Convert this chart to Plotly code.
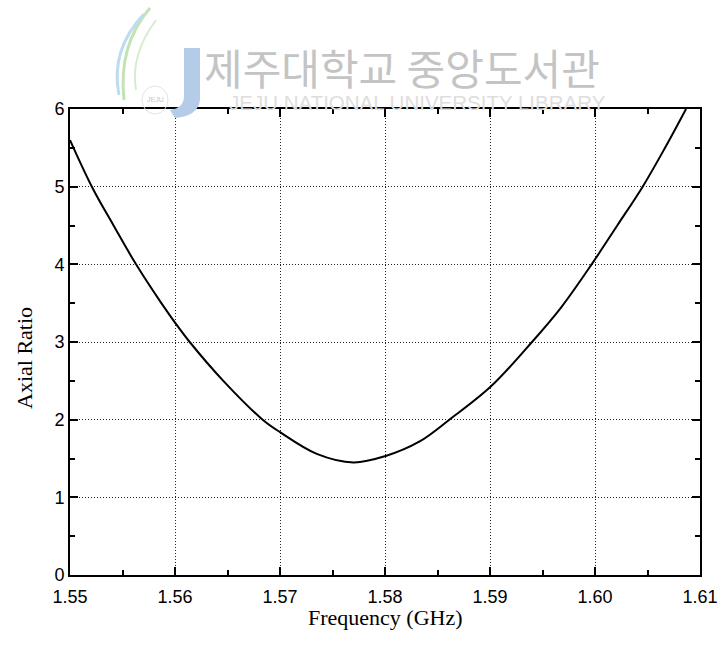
import plotly.graph_objects as go

# Axial ratio versus frequency
freq = [1.55000, 1.55212, 1.55415, 1.55629, 1.55870, 1.56000, 1.56140,
        1.56460, 1.56835, 1.57000, 1.57350, 1.57700, 1.58000, 1.58330,
        1.58613, 1.59010, 1.59400, 1.59680, 1.59968, 1.60212, 1.60454,
        1.60667, 1.60867]
axial_ratio = [5.60, 4.99, 4.50, 4.00, 3.50, 3.25, 3.00,
               2.50, 2.00, 1.84, 1.56, 1.45, 1.53, 1.72,
               2.00, 2.43, 3.00, 3.45, 4.00, 4.50, 5.00,
               5.50, 6.00]

x_ticks = [1.55, 1.56, 1.57, 1.58, 1.59, 1.60, 1.61]
x_tick_text = ["1.55", "1.56", "1.57", "1.58", "1.59", "1.60", "1.61"]
y_ticks = [0, 1, 2, 3, 4, 5, 6]

tick_font = dict(family="Arial, Liberation Sans, Arimo", size=18, color="black")
title_font = dict(family="Times New Roman, Liberation Serif, serif", size=22, color="black")

# Figure geometry (pixels) used to place the free-floating labels
W, H = 717, 648
L, R, T, B = 70, 17, 109, 73
pw, ph = W - L - R, H - T - B


def px(x):
    return (x - L) / pw


def py(y):
    return (H - B - y) / ph


fig = go.Figure()
fig.add_trace(go.Scatter(
    x=freq, y=axial_ratio, mode="lines",
    line=dict(color="black", width=2, shape="spline", smoothing=1.0),
    showlegend=False,
))

axis_common = dict(
    showline=True, linecolor="black", linewidth=2, mirror="ticks",
    ticks="inside", ticklen=8, tickwidth=1.5, tickcolor="black",
    showgrid=True, gridcolor="#222222", griddash="1px,2px", gridwidth=1,
    zeroline=False, tickfont=tick_font, ticklabeloverflow="allow",
    automargin=False,
)

fig.update_xaxes(
    range=[1.55, 1.61 + 1e-9], tickvals=x_ticks, ticktext=x_tick_text,
    minor=dict(dtick=0.005, ticks="inside", ticklen=5, tickwidth=1.5,
               tickcolor="black", showgrid=False),
    ticklabelstandoff=4,
    **axis_common,
)
fig.update_yaxes(
    range=[0, 6 + 1e-9], tickvals=y_ticks,
    minor=dict(dtick=0.5, ticks="inside", ticklen=5, tickwidth=1.5,
               tickcolor="black", showgrid=False),
    **axis_common,
)

annotations = [
    dict(text="Frequency (GHz)", x=px(385), y=py(617), font=title_font),
    dict(text="Axial Ratio", x=px(24), y=py(358), font=title_font, textangle=-90),
    # library watermark
    dict(text="제주대학교 중앙도서관", x=px(402), y=py(66),
         font=dict(family="Noto Sans CJK KR", size=42, color="#c4c4c4")),
    dict(text="JEJU NATIONAL UNIVERSITY LIBRARY", x=px(417), y=py(102),
         font=dict(family="Liberation Sans", size=20.5, color="#dedede")),
    dict(text="JEJU", x=px(155), y=py(100),
         font=dict(family="Liberation Sans", size=7, color="#c8c8c8")),
]
for a in annotations:
    a.update(xref="paper", yref="paper", showarrow=False,
             xanchor="center", yanchor="middle")

fig.update_layout(
    width=W, height=H,
    margin=dict(l=L, r=R, t=T, b=B, autoexpand=False),
    paper_bgcolor="white", plot_bgcolor="white",
    annotations=annotations,
)

# Logo strokes: swooshes, emblem ring and the blue "J"
fig.add_shape(type="path", xref="paper", yref="paper", layer="above",
              path=f"M {px(150)},{py(8)} Q {px(118)},{py(45)} {px(124)},{py(100)}",
              line=dict(color="#c4e2b4", width=3))
fig.add_shape(type="path", xref="paper", yref="paper", layer="above",
              path=f"M {px(144)},{py(14)} Q {px(110)},{py(50)} {px(119)},{py(95)}",
              line=dict(color="#bcdcf0", width=3))
fig.add_shape(type="path", xref="paper", yref="paper", layer="above",
              path=f"M {px(156)},{py(20)} Q {px(130)},{py(55)} {px(136)},{py(90)}",
              line=dict(color="#d6ecd2", width=2))
fig.add_shape(type="circle", xref="paper", yref="paper", layer="above",
              x0=px(142), x1=px(168), y0=py(86), y1=py(114),
              line=dict(color="#e4e4e4", width=1))
fig.add_shape(type="path", xref="paper", yref="paper", layer="above",
              path=(f"M {px(184)},{py(48)} L {px(200)},{py(48)} L {px(200)},{py(100)} "
                    f"Q {px(198)},{py(116)} {px(175)},{py(118)} L {px(170)},{py(110)} "
                    f"Q {px(184)},{py(108)} {px(184)},{py(96)} Z"),
              fillcolor="#b4cce8", line=dict(width=0))

fig.write_html("out.html")
